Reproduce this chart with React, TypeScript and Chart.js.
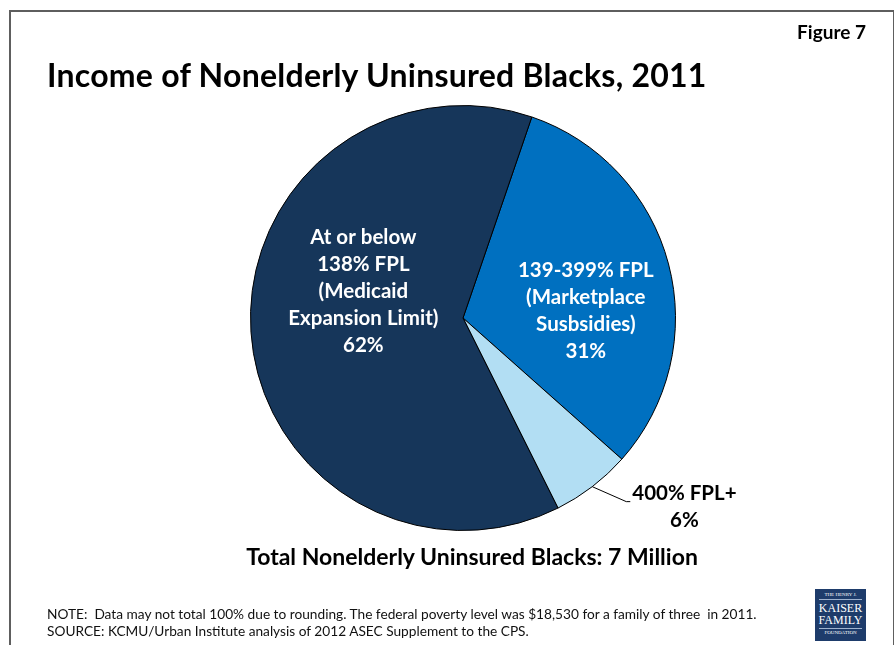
import React, { useEffect, useRef } from "react";
import { Chart, registerables } from "chart.js";

Chart.register(...registerables);

const categories = [
  "139-399% FPL (Marketplace Susbsidies)",
  "400% FPL+",
  "At or below 138% FPL (Medicaid Expansion Limit)",
];
const values = [31, 6, 62];
const labelLines = [
  ["139-399% FPL", "(Marketplace", "Susbsidies)"],
  ["400% FPL+"],
  ["At or below", "138% FPL", "(Medicaid", "Expansion Limit)"],
];
const colors = ["#0070C0", "#B2DEF3", "#16365A"];
const startAngleDeg = 18.9;

const titleText = "Income of Nonelderly Uninsured Blacks, 2011";
const figureText = "Figure 7";
const totalText = "Total Nonelderly Uninsured Blacks: 7 Million";
const noteLines = [
  "NOTE:  Data may not total 100% due to rounding. The federal poverty level was $18,530 for a family of three  in 2011.",
  "SOURCE: KCMU/Urban Institute analysis of 2012 ASEC Supplement to the CPS.",
];

const FONT = "Lato, 'Open Sans', sans-serif";

// label anchor (center of text block) relative to pie center, in units of radius
const labelAnchors = [
  { dx: 0.578, dy: -0.033, color: "#ffffff" },
  { dx: 1.042, dy: 0.89, color: "#000000", leader: true },
  { dx: -0.469, dy: -0.124, color: "#ffffff" },
];

const labelPlugin = {
  id: "sliceLabels",
  afterDatasetsDraw(chart: any) {
    const ctx = chart.ctx;
    const meta = chart.getDatasetMeta(0);
    ctx.save();
    ctx.font = `bold 20.5px ${FONT}`;
    ctx.textAlign = "center";
    ctx.textBaseline = "middle";
    const lh = 27;
    meta.data.forEach((arc: any, i: number) => {
      const p = arc.getProps(["x", "y", "startAngle", "endAngle", "outerRadius"], true);
      const r = p.outerRadius;
      const a = labelAnchors[i];
      const cx = p.x + a.dx * r;
      const cy = p.y + a.dy * r;
      const lines = [...labelLines[i], `${values[i]}%`];
      const top = cy - ((lines.length - 1) * lh) / 2;
      ctx.fillStyle = a.color;
      lines.forEach((t, k) => ctx.fillText(t, cx, top + k * lh));
      if (a.leader) {
        const mid = (p.startAngle + p.endAngle) / 2;
        const sx = p.x + Math.cos(mid) * r;
        const sy = p.y + Math.sin(mid) * r;
        const w = ctx.measureText(lines[0]).width;
        const ex = cx - w / 2 - 6;
        const ey = top + 8;
        ctx.beginPath();
        ctx.strokeStyle = "#000";
        ctx.lineWidth = 1;
        ctx.moveTo(sx, sy);
        ctx.lineTo(ex, ey);
        ctx.lineTo(ex + 4, ey);
        ctx.stroke();
      }
    });
    ctx.restore();
  },
};

function PieChart() {
  const ref = useRef<HTMLCanvasElement | null>(null);
  useEffect(() => {
    if (!ref.current) return;
    const chart = new Chart(ref.current, {
      type: "pie",
      data: {
        labels: categories,
        datasets: [
          {
            data: values,
            backgroundColor: colors,
            borderColor: "#000000",
            borderWidth: 1,
          },
        ],
      },
      options: {
        animation: false,
        responsive: false,
        rotation: startAngleDeg,
        layout: { padding: { left: 250, right: 218, top: 105, bottom: 114 } },
        plugins: {
          legend: { display: false },
          tooltip: { enabled: false },
          title: { display: false },
        },
      },
      plugins: [labelPlugin],
    });
    return () => chart.destroy();
  }, []);
  return (
    <canvas
      ref={ref}
      width={894}
      height={645}
      style={{ position: "absolute", left: 0, top: 0, width: 894, height: 645 }}
    />
  );
}

export default function App() {
  return (
    <div
      style={{
        position: "absolute",
        left: 0,
        top: 0,
        width: 894,
        height: 645,
        background: "#fff",
        overflow: "hidden",
        fontFamily: FONT,
        color: "#000",
      }}
    >
      <div
        style={{
          position: "absolute",
          left: 9,
          top: 10,
          width: 882,
          height: 700,
          border: "2px solid #5e5e5e",
        }}
      />
      <PieChart />
      <div
        style={{
          position: "absolute",
          right: 28,
          top: 20,
          fontWeight: 700,
          fontSize: 19,
          lineHeight: "24px",
        }}
      >
        {figureText}
      </div>
      <div
        style={{
          position: "absolute",
          left: 47,
          top: 55,
          fontWeight: 700,
          fontSize: 32,
          letterSpacing: 0.25,
          lineHeight: "40px",
          whiteSpace: "nowrap",
        }}
      >
        {titleText}
      </div>
      <div
        style={{
          position: "absolute",
          left: 0,
          width: 944,
          top: 542,
          textAlign: "center",
          fontWeight: 700,
          fontSize: 23,
          lineHeight: "28px",
          whiteSpace: "nowrap",
        }}
      >
        {totalText}
      </div>
      <div
        style={{
          position: "absolute",
          left: 47,
          top: 605,
          fontSize: 13.7,
          lineHeight: "17px",
          color: "#111",
          whiteSpace: "pre",
        }}
      >
        {noteLines.map((l, i) => (
          <div key={i}>{l}</div>
        ))}
      </div>
      <div
        style={{
          position: "absolute",
          left: 815,
          top: 589,
          width: 51,
          height: 52,
          background: "#1E3C6B",
          color: "#fff",
          fontFamily: "'Liberation Serif', 'DejaVu Serif', serif",
          textAlign: "center",
          boxSizing: "border-box",
          paddingTop: 3,
        }}
      >
        <div style={{ fontSize: 5, lineHeight: "6px", borderBottom: "1px solid #9fb3cf", margin: "0 4px", paddingBottom: 1 }}>
          THE HENRY J.
        </div>
        <div style={{ fontSize: 12, lineHeight: "12px", marginTop: 2 }}>KAISER</div>
        <div style={{ fontSize: 12, lineHeight: "12px" }}>FAMILY</div>
        <div style={{ fontSize: 5, lineHeight: "7px", borderTop: "1px solid #9fb3cf", margin: "2px 4px 0" }}>
          FOUNDATION
        </div>
      </div>
    </div>
  );
}
